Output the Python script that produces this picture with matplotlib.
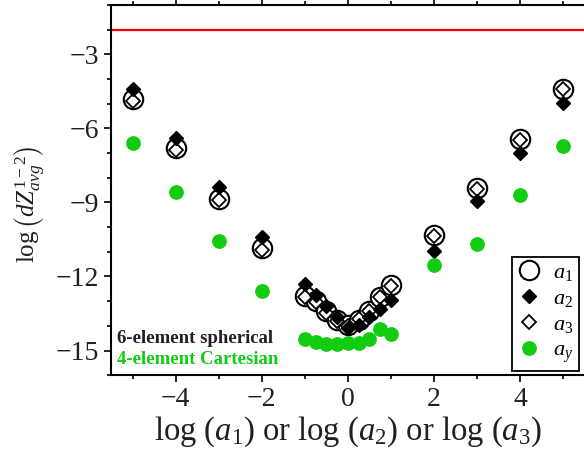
import numpy as np
import matplotlib
matplotlib.use("Agg")
import matplotlib.pyplot as plt
from matplotlib.ticker import MultipleLocator

plt.rcParams['font.family'] = ['Liberation Serif', 'DejaVu Serif']
plt.rcParams['mathtext.fontset'] = 'custom'
plt.rcParams['mathtext.rm'] = 'Liberation Serif'
plt.rcParams['mathtext.it'] = 'Liberation Serif:italic'
plt.rcParams['mathtext.bf'] = 'Liberation Serif:bold'

# datos
x_log = [-5, -4, -3, -2, -1, -0.75, -0.5, -0.25, 0, 0.25, 0.5, 0.75, 1, 2, 3, 4, 5]
a1 = [-4.80, -6.78, -8.84, -10.84, -12.80, -13.00, -13.40, -13.75, -13.95,
      -13.75, -13.40, -12.85, -12.35, -10.30, -8.40, -6.42, -4.39]
a2 = [-4.42, -6.38, -8.38, -10.39, -12.32, -12.75, -13.20, -13.65, -14.10,
      -13.95, -13.65, -13.30, -12.95, -10.97, -8.95, -6.98, -4.99]
a3 = [-4.90, -6.88, -8.92, -10.92, -12.85, -13.05, -13.47, -13.80, -14.00,
      -13.74, -13.40, -12.85, -12.40, -10.35, -8.45, -6.45, -4.42]
ay = [-6.58, -8.58, -10.58, -12.57, -14.55, -14.66, -14.75, -14.75, -14.71,
      -14.69, -14.52, -14.12, -14.35, -11.55, -10.70, -8.70, -6.72]
limite = -2

verde = '#11cc11'
oscuro = '#231f20'

fig = plt.figure(figsize=(5.84, 4.57), dpi=100)
ax = fig.add_axes([0.19, 0.179, 0.8116, 0.81])

ax.axhline(limite, color='red', lw=1.6, zorder=1)

ax.plot(x_log, a1, 'o', ms=14, mfc='white', mec='black', mew=1.5, ls='none',
        zorder=3, label='$a_1$')
ax.plot(x_log, a3, 'D', ms=7.6, mfc='white', mec='black', mew=1.3, ls='none',
        zorder=4, label='$a_3$')
ax.plot(x_log, a2, 'D', ms=7.6, color='black', ls='none', zorder=5, label='$a_2$')
ax.plot(x_log, ay, 'o', ms=9.6, color=verde, ls='none', zorder=6, label='$a_y$')

ax.set_xlim(-5.5, 5.5)
ax.set_ylim(-16, -1)
ax.xaxis.set_major_locator(MultipleLocator(2))
ax.xaxis.set_minor_locator(MultipleLocator(1))
ax.yaxis.set_minor_locator(MultipleLocator(1))
ax.set_yticks([-3, -6, -9, -12, -15])
ax.tick_params(which='both', direction='out', top=True, width=1.2,
               colors='black', labelcolor=oscuro, labelsize=20)
ax.tick_params(which='major', length=5)
ax.tick_params(which='minor', length=3)
for lado in ['left', 'bottom', 'top']:
    ax.spines[lado].set_linewidth(1.5)
ax.spines['right'].set_visible(False)

ax.set_xlabel('log ($a_1$) or log ($a_2$) or log ($a_3$)', fontsize=23.5,
              color=oscuro, labelpad=2)
ax.set_ylabel(r'$\log\left(dZ^{1-2}_{avg}\right)$', fontsize=18,
              color=oscuro)
ax.yaxis.set_label_coords(-0.135, 0.46)

ax.text(0.013, 0.10, '6-element spherical', transform=ax.transAxes,
        fontsize=13.5, fontweight='bold', color=oscuro, va='center')
ax.text(0.013, 0.043, '4-element Cartesian', transform=ax.transAxes,
        fontsize=13.5, fontweight='bold', color=verde, va='center')

h, l = ax.get_legend_handles_labels()
orden = [0, 2, 1, 3]
leg = ax.legend([h[i] for i in orden], [l[i] for i in orden],
                loc='lower right', bbox_to_anchor=(0.988, 0.012),
                fontsize=16, frameon=True, fancybox=False, framealpha=1,
                edgecolor='black', handlelength=1.0, handletextpad=0.6,
                labelspacing=0.25, borderpad=0.25, borderaxespad=0)
leg.get_frame().set_linewidth(1.3)

fig.savefig('out.png', dpi=100)
